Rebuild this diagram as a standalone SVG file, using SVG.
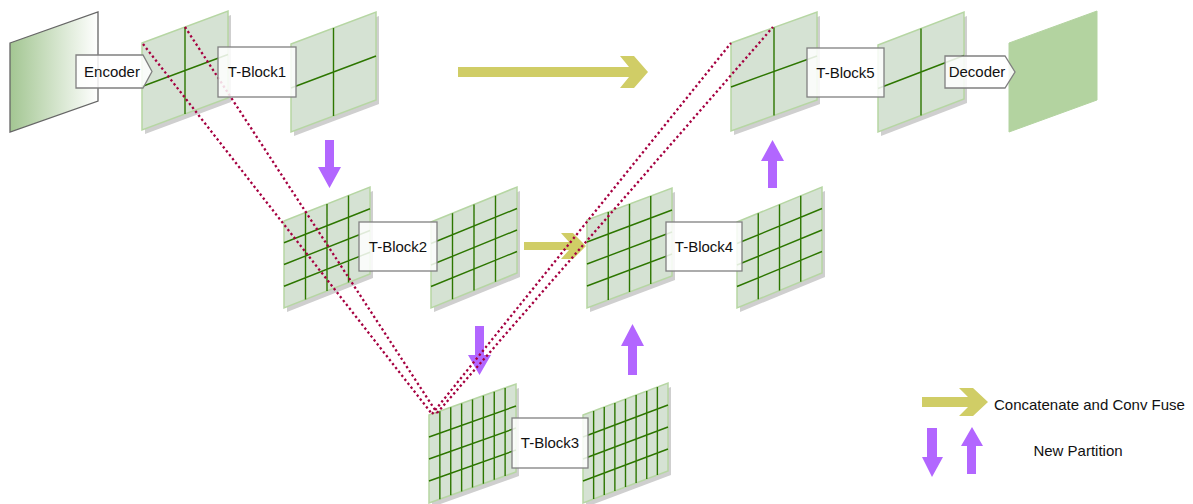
<svg xmlns="http://www.w3.org/2000/svg" width="1193" height="504" viewBox="0 0 1193 504">
<defs>
<linearGradient id="gin" x1="0" y1="0" x2="1" y2="0">
<stop offset="0" stop-color="#a3c692"/>
<stop offset="1" stop-color="#ffffff"/>
</linearGradient>
<style>
.sh{fill:#cfcfcf;stroke:none}
.pl{fill:#d5e2d3;stroke:#b6d6a3;stroke-width:1.5}
.gr{fill:none;stroke:#2d7600;stroke-width:1.4}
.lb{fill:#ffffff;fill-opacity:0.85;stroke:#808080;stroke-width:1.3}
.tx{font-family:"Liberation Sans",Arial,sans-serif;font-size:15px;fill:#111;text-anchor:middle}
.dot{fill:none;stroke:#a50040;stroke-width:2.3;stroke-dasharray:2.3 2.7}
.yl{fill:#d0cd66;stroke:none}
.pu{fill:#b266ff;stroke:none}
</style>
</defs>
<rect width="1193" height="504" fill="#ffffff"/>

<g id="input-image">
<polygon points="10,43 98,12 98,101 10,132" fill="url(#gin)" stroke="#666" stroke-width="1.3"/>
</g>

<g id="plane-1">
<polygon class="sh" points="145,47 231,15 231,102 145,134"/>
<polygon class="pl" points="142,43 228,11 228,98 142,130"/>
<path class="gr" d="M185,27V114M142,86.5L228,54.5"/>
</g>
<g id="plane-2">
<polygon class="sh" points="294,48 379,16 379,104 294,136"/>
<polygon class="pl" points="291,44 376,12 376,100 291,132"/>
<path class="gr" d="M333.5,28V116M291,88L376,56"/>
</g>
<g id="plane-3">
<polygon class="sh" points="287,225 373,191 373,278 287,312"/>
<polygon class="pl" points="284,221 370,187 370,274 284,308"/>
<path class="gr" d="M305.5,212.5V299.5M327,204V291M348.5,195.5V282.5M284,242.75L370,208.75M284,264.5L370,230.5M284,286.25L370,252.25"/>
</g>
<g id="plane-4">
<polygon class="sh" points="434,226 520,191 520,277 434,312"/>
<polygon class="pl" points="431,222 517,187 517,273 431,308"/>
<path class="gr" d="M452.5,213.25V299.25M474,204.5V290.5M495.5,195.75V281.75M431,243.5L517,208.5M431,265L517,230M431,286.5L517,251.5"/>
</g>
<g id="plane-5">
<polygon class="sh" points="432,419 519,388 519,476 432,507"/>
<polygon class="pl" points="429,415 516,384 516,472 429,503"/>
<path class="gr" d="M439.875,411.125V499.125M450.75,407.25V495.25M461.625,403.375V491.375M472.5,399.5V487.5M483.375,395.625V483.625M494.25,391.75V479.75M505.125,387.875V475.875M429,437L516,406M429,459L516,428M429,481L516,450"/>
</g>
<g id="plane-6">
<polygon class="sh" points="586,419 671,387 671,475 586,507"/>
<polygon class="pl" points="583,415 668,383 668,471 583,503"/>
<path class="gr" d="M593.625,411V499M604.25,407V495M614.875,403V491M625.5,399V487M636.125,395V483M646.75,391V479M657.375,387V475M583,437L668,405M583,459L668,427M583,481L668,449"/>
</g>
<g id="plane-7">
<polygon class="sh" points="590,224 675,192 675,280 590,312"/>
<polygon class="pl" points="587,220 672,188 672,276 587,308"/>
<path class="gr" d="M608.25,212V300M629.5,204V292M650.75,196V284M587,242L672,210M587,264L672,232M587,286L672,254"/>
</g>
<g id="plane-8">
<polygon class="sh" points="740,226 825,191 825,277 740,312"/>
<polygon class="pl" points="737,222 822,187 822,273 737,308"/>
<path class="gr" d="M758.25,213.25V299.25M779.5,204.5V290.5M800.75,195.75V281.75M737,243.5L822,208.5M737,265L822,230M737,286.5L822,251.5"/>
</g>
<g id="plane-9">
<polygon class="sh" points="734,47 820,16 820,104 734,135"/>
<polygon class="pl" points="731,43 817,12 817,100 731,131"/>
<path class="gr" d="M774,27.5V115.5M731,87L817,56"/>
</g>
<g id="plane-10">
<polygon class="sh" points="881,49 967,16 967,103 881,136"/>
<polygon class="pl" points="878,45 964,12 964,99 878,132"/>
<path class="gr" d="M921,28.5V115.5M878,88.5L964,55.5"/>
</g>
<g id="output-image">
<polygon points="1009,43 1097,11 1097,100 1009,132" fill="#b3d3a0" stroke="#b3d3a0" stroke-width="1"/>
</g>

<g id="connectors">
<path class="yl" d="M458,67H629L620,56H634L648,72L634,88H620L629,77H458Z"/>
<path class="yl" d="M524,242H569L561,233H573L586,246L573,259H561L569,250H524Z"/>
<path class="pu" d="M325,140H334V167H341L329.5,188L318,167H325Z"/>
<path class="pu" d="M475,326H484V355H491L479.5,375L468,355H475Z"/>
<path class="pu" d="M628,375H637V346H644L632.5,324L621,346H628Z"/>
<path class="pu" d="M768,188H777V161H784L772.5,140L761,161H768Z"/>
<line class="dot" x1="143" y1="44" x2="432" y2="414"/>
<line class="dot" x1="185" y1="27" x2="437" y2="413"/>
<line class="dot" x1="432" y1="414" x2="731" y2="43"/>
<line class="dot" x1="437" y1="413" x2="773" y2="27"/>
</g>

<g id="encoder">
<path class="lb" d="M76,55H143L152,71.5L143,88H76Z"/>
<text class="tx" x="112" y="77">Encoder</text>
</g>
<g id="tblock1">
<rect class="lb" x="218" y="47" width="78" height="50"/>
<text class="tx" x="257" y="77">T-Block1</text>
</g>
<g id="tblock2">
<rect class="lb" x="359" y="222" width="78" height="49"/>
<text class="tx" x="398" y="252">T-Block2</text>
</g>
<g id="tblock3">
<rect class="lb" x="512" y="418" width="76" height="50"/>
<text class="tx" x="550" y="448">T-Block3</text>
</g>
<g id="tblock4">
<rect class="lb" x="666" y="222" width="76" height="49"/>
<text class="tx" x="704" y="252">T-Block4</text>
</g>
<g id="tblock5">
<rect class="lb" x="807" y="48" width="77" height="49"/>
<text class="tx" x="845.5" y="78">T-Block5</text>
</g>
<g id="decoder">
<path class="lb" d="M945,56H1005L1015,72L1005,88H945Z"/>
<text class="tx" x="977" y="77">Decoder</text>
</g>

<g id="legend">
<path class="yl" d="M922,397H968L959,388H973L988,402L973,416H959L968,407H922Z"/>
<text class="tx" x="994" y="410" style="text-anchor:start">Concatenate and Conv Fuse</text>
<path class="pu" d="M927,428H937V457H943L932,477L922,457H927Z"/>
<path class="pu" d="M967,474H976V446H983L972,427L961,446H967Z"/>
<text class="tx" x="1078" y="456">New Partition</text>
</g>
</svg>
